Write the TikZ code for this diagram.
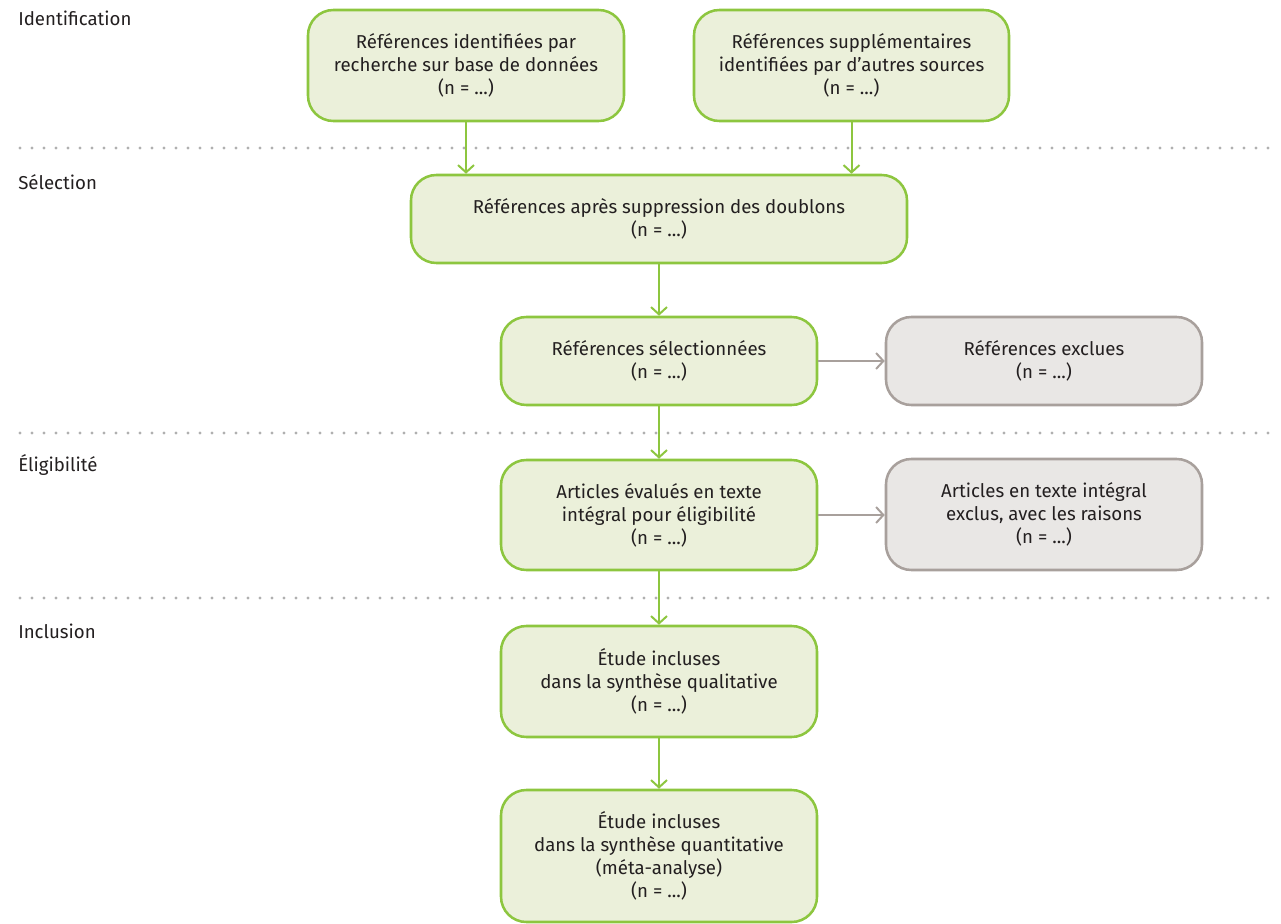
\documentclass[tikz,border=0pt]{standalone}
\usepackage{fontspec}
\setmainfont{Fira Sans}
\usetikzlibrary{arrows.meta}
\definecolor{gborder}{HTML}{8DC63F}
\definecolor{gfill}{HTML}{EBF0DA}
\definecolor{hborder}{HTML}{A8A09C}
\definecolor{hfill}{HTML}{E9E7E5}
\definecolor{txt}{HTML}{231F20}
\definecolor{dotc}{HTML}{B0B0B0}
\tikzset{
  gbox/.style={draw=gborder, fill=gfill, line width=1.9pt, rounded corners=19pt,
    align=center, text=txt, font=\fontsize{14pt}{17.25pt}\selectfont, inner sep=0pt},
  hbox/.style={gbox, draw=hborder, fill=hfill},
  garrow/.style={draw=gborder, line width=1.5pt, -{Straight Barb[length=5.5pt,width=12pt,line width=1.5pt]}},
  harrow/.style={garrow, draw=hborder},
  dotline/.style={draw=dotc, line width=2.4pt, line cap=round, dash pattern=on 0pt off 9pt},
  phase/.style={anchor=west, text=txt, font=\fontsize{14pt}{17.25pt}\selectfont, inner sep=0pt}
}
\begin{document}
\begin{tikzpicture}[x=0.75pt, y=-0.75pt]
\useasboundingbox (0,0) rectangle (1281,924);

% phase labels
\node[phase] (l1) at (18,18) {Identification};
\node[phase] (l2) at (18,182) {Sélection};
\node[phase] (l3) at (18,465) {Éligibilité};
\node[phase] (l4) at (18,631) {Inclusion};

% dotted separators
\coordinate (d1a) at (20,148); \coordinate (d1b) at (1276,148);
\coordinate (d2a) at (20,433); \coordinate (d2b) at (1276,433);
\coordinate (d3a) at (20,598); \coordinate (d3b) at (1276,598);
\draw[dotline] (d1a) -- (d1b);
\draw[dotline] (d2a) -- (d2b);
\draw[dotline] (d3a) -- (d3b);

% boxes
\node[gbox, minimum width=237pt, minimum height=83.25pt] (b1) at (466,65.5)
  {Références identifiées par\\recherche sur base de données\\(n = ...)};
\node[gbox, minimum width=236.25pt, minimum height=83.25pt] (b2) at (851.5,65.5)
  {Références supplémentaires\\identifiées par d'autres sources\\(n = ...)};
\node[gbox, minimum width=372pt, minimum height=66pt] (b3) at (659,219)
  {Références après suppression des doublons\\(n = ...)};
\node[gbox, minimum width=237pt, minimum height=66pt] (b4) at (659,361)
  {Références sélectionnées\\(n = ...)};
\node[hbox, minimum width=237pt, minimum height=66pt] (b5) at (1044,361)
  {Références exclues\\(n = ...)};
\node[gbox, minimum width=237pt, minimum height=82.5pt] (b6) at (659,515)
  {Articles évalués en texte\\intégral pour éligibilité\\(n = ...)};
\node[hbox, minimum width=237pt, minimum height=83.25pt] (b7) at (1044,514.5)
  {Articles en texte intégral\\exclus, avec les raisons\\(n = ...)};
\node[gbox, minimum width=237pt, minimum height=83.25pt] (b8) at (659,681.5)
  {Étude incluses\\dans la synthèse qualitative\\(n = ...)};
\node[gbox, minimum width=237pt, minimum height=99pt] (b9) at (659,856)
  {Étude incluses\\dans la synthèse quantitative\\(méta-analyse)\\(n = ...)};

% connectors
\draw[garrow] (b1.south) -- (b1.south |- b3.north);
\draw[garrow] (b2.south) -- (b2.south |- b3.north);
\draw[garrow] (b3.south) -- (b4.north);
\draw[garrow] (b4.south) -- (b6.north);
\draw[garrow] (b6.south) -- (b8.north);
\draw[garrow] (b8.south) -- (b9.north);
\draw[harrow] (b4.east) -- (b5.west);
\draw[harrow] (b6.east) -- (b6.east -| b7.west);
\end{tikzpicture}
\end{document}
